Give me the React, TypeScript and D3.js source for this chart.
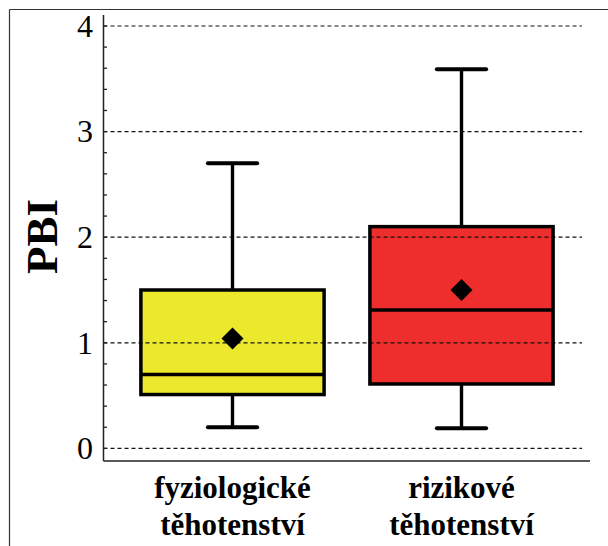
import React from "react";
import * as d3 from "d3";

const categories = ["fyziologické|těhotenství", "rizikové|těhotenství"];
const mins = [0.2, 0.19];
const q1s = [0.51, 0.61];
const medians = [0.7, 1.31];
const q3s = [1.5, 2.1];
const maxs = [2.7, 3.59];
const means = [1.04, 1.5];
const fills = ["#ECE82B", "#EE2E2C"];
const majorTicks = [0, 1, 2, 3, 4];
const minorTicks = d3.range(0, 4.01, 0.2);
const yLabel = "PBI";

const W = 608;
const H = 546;

export default function App() {
  const y = d3.scaleLinear().domain([0, 4]).range([448.4, 26]);
  const x = d3.scaleBand<string>().domain(categories).range([118, 576]).padding(0);
  const axisX = 103.5;
  const axisBottom = y(-0.12);
  const axisTop = y(4.105);
  const gridEnd = 582;
  const xAxisEnd = 590;
  const bw = x.bandwidth();
  const boxW = bw * 0.8;
  const capW = bw * 0.215;
  const diamond = d3.symbol().type(d3.symbolSquare).size(242)();
  const serif = "'Liberation Serif', 'Times New Roman', serif";

  return (
    <svg width={W} height={H} style={{ position: "absolute", left: 0, top: 0, background: "#fff" }}>
      <rect x={0} y={0} width={W} height={H} fill="#fff" />
      {/* frame */}
      <line x1={9.5} y1={9.5} x2={W} y2={9.5} stroke="#333" strokeWidth={1.2} />
      <line x1={9.5} y1={9.5} x2={9.5} y2={H} stroke="#333" strokeWidth={1.2} />

      {/* box fills */}
      {categories.map((c, i) => {
        const cx = (x(c) as number) + bw / 2;
        return (
          <rect key={"f" + c} x={cx - boxW / 2} y={y(q3s[i])} width={boxW} height={y(q1s[i]) - y(q3s[i])} fill={fills[i]} />
        );
      })}

      {/* grid */}
      {majorTicks.map((t) => (
        <line key={"g" + t} x1={axisX} x2={gridEnd} y1={y(t)} y2={y(t)} stroke="#111" strokeWidth={1.2} strokeDasharray="4,3" />
      ))}

      {/* axes */}
      <line x1={axisX} x2={axisX} y1={axisTop} y2={axisBottom} stroke="#222" strokeWidth={1.5} />
      <line x1={axisX} x2={xAxisEnd} y1={axisBottom} y2={axisBottom} stroke="#222" strokeWidth={1.5} />
      {minorTicks.map((t) => (
        <line key={"m" + t} x1={axisX} x2={axisX + 3.5} y1={y(t)} y2={y(t)} stroke="#222" strokeWidth={1.3} />
      ))}
      {majorTicks.map((t) => (
        <text key={"l" + t} x={93} y={y(t)} dy="0.34em" textAnchor="end" fontFamily={serif} fontSize={32} fill="#000">
          {t}
        </text>
      ))}
      <text transform={`translate(57, 236.5) rotate(-90)`} textAnchor="middle" fontFamily={serif} fontWeight="bold" fontSize={45} fill="#000">
        {yLabel}
      </text>

      {/* boxes */}
      {categories.map((c, i) => {
        const cx = (x(c) as number) + bw / 2;
        const lines = c.split("|");
        return (
          <g key={"b" + c}>
            <line x1={cx} x2={cx} y1={y(maxs[i])} y2={y(q3s[i])} stroke="#000" strokeWidth={3.4} />
            <line x1={cx} x2={cx} y1={y(q1s[i])} y2={y(mins[i])} stroke="#000" strokeWidth={3.4} />
            <line x1={cx - capW / 2} x2={cx + capW / 2} y1={y(maxs[i])} y2={y(maxs[i])} stroke="#000" strokeWidth={4} strokeLinecap="round" />
            <line x1={cx - capW / 2} x2={cx + capW / 2} y1={y(mins[i])} y2={y(mins[i])} stroke="#000" strokeWidth={4} strokeLinecap="round" />
            <rect x={cx - boxW / 2} y={y(q3s[i])} width={boxW} height={y(q1s[i]) - y(q3s[i])} fill="none" stroke="#000" strokeWidth={3.5} />
            <line x1={cx - boxW / 2} x2={cx + boxW / 2} y1={y(medians[i])} y2={y(medians[i])} stroke="#000" strokeWidth={3.5} />
            <path d={diamond as string} transform={`translate(${cx},${y(means[i])}) rotate(45)`} fill="#000" />
            {lines.map((ln, j) => (
              <text key={j} x={cx} y={498 + j * 37} textAnchor="middle" fontFamily={serif} fontWeight="bold" fontSize={31} fill="#000">
                {ln}
              </text>
            ))}
          </g>
        );
      })}
    </svg>
  );
}
